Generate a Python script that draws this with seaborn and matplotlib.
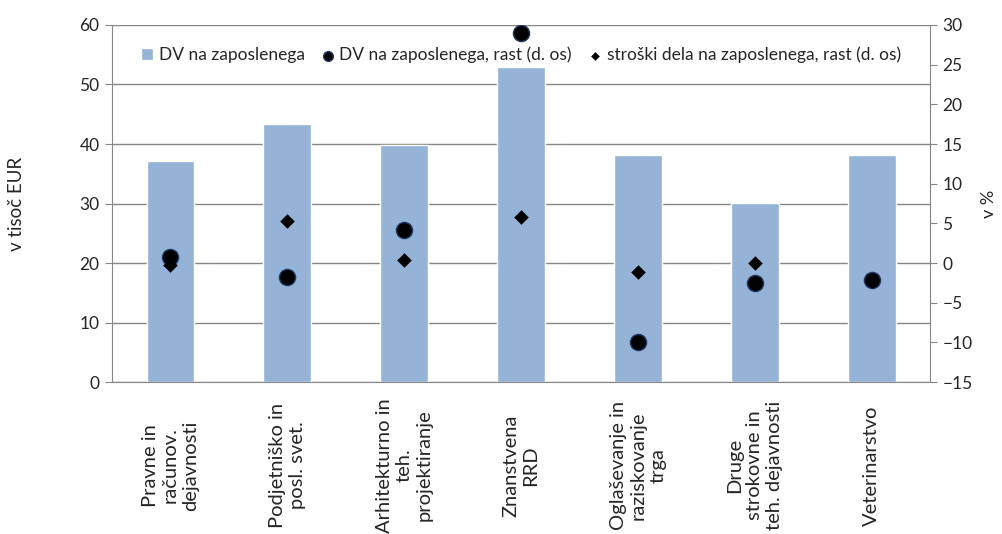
import numpy as np
import pandas as pd
import seaborn as sns
import matplotlib.pyplot as plt

# data
categories = [
    'Pravne in\nračunov.\ndejavnosti',
    'Podjetniško in\nposl. svet.',
    'Arhitekturno in\nteh.\nprojektiranje',
    'Znanstvena\nRRD',
    'Oglaševanje in\nraziskovanje\ntrga',
    'Druge\nstrokovne in\nteh. dejavnosti',
    'Veterinarstvo',
]
dv = [37.2, 43.4, 39.8, 52.9, 38.1, 30.1, 38.1]
dv_rast = [0.8, -1.8, 4.2, 29.0, -10.0, -2.5, -2.1]
stroski_rast = [-0.3, 5.3, 0.4, 5.8, -1.1, 0.0, -2.3]

left_ticks = np.arange(0, 61, 10)
right_ticks = np.arange(-15, 31, 5)

sns.set_style('white')
plt.rcParams['font.family'] = ['Lato', 'DejaVu Sans']

df = pd.DataFrame({
    'kat': categories,
    'dv': dv,
    'dv_rast': dv_rast,
    'stroski_rast': stroski_rast,
})

grey = '#868686'

fig = plt.figure(figsize=(10.03, 5.34), dpi=100)
ax = fig.add_axes([0.1117, 0.2846, 0.8155, 0.6686])

sns.barplot(
    data = df, x = 'kat', y = 'dv',
    color = '#95B3D7', saturation = 1, width = 0.41,
    label = 'DV na zaposlenega', ax = ax
)

ax2 = ax.twinx()
sns.scatterplot(
    data = df, x = 'kat', y = 'dv_rast',
    marker = 'o', s = 135, color = 'black', edgecolor = '#1F3864',
    linewidth = 1, label = 'DV na zaposlenega, rast (d. os)', ax = ax2, zorder = 3
)
sns.scatterplot(
    data = df, x = 'kat', y = 'stroski_rast',
    marker = 'D', s = 55, color = 'black', linewidth = 0,
    label = 'stroški dela na zaposlenega, rast (d. os)', ax = ax2, zorder = 4
)

# axes
ax.set_xlim(-0.5, 6.5)
ax.set_ylim(0, 60)
ax.set_yticks(left_ticks)
ax2.set_ylim(-15, 30)
ax2.set_yticks(right_ticks)

ax.set_axisbelow(True)
ax.yaxis.grid(True, color = grey, lw = 1)
ax.xaxis.grid(False)

# boundary ticks as major, category names as minor
ax.set_xticks(np.arange(-0.5, 7, 1), labels = [''] * 8)
ax.set_xticks(range(len(categories)), labels = categories, minor = True)
ax.tick_params(axis = 'x', which = 'major', length = 6, width = 1, color = grey, direction = 'out')
ax.tick_params(axis = 'x', which = 'minor', length = 0, pad = 60, labelsize = 14.5)
for lab in ax.get_xticklabels(minor = True):
    lab.set_rotation(90)
    lab.set_va('center')
    lab.set_ha('center')
    lab.set_multialignment('center')
    lab.set_linespacing(1.2)

ax.tick_params(axis = 'y', left = True, length = 5, color = grey, labelsize = 12.5, pad = 4)
ax2.tick_params(axis = 'y', right = True, length = 5, color = grey, labelsize = 12.5, pad = 4)

for side in ['top', 'right']:
    ax.spines[side].set_visible(False)
for side in ['left', 'bottom']:
    ax.spines[side].set_color(grey)
for side in ['top', 'left', 'bottom']:
    ax2.spines[side].set_visible(False)
ax2.spines['right'].set_color(grey)

ax.set_xlabel('')
ax2.set_xlabel('')
ax.set_ylabel('v tisoč EUR', fontsize = 13.5)
ax.yaxis.set_label_coords(-0.106, 0.5)
ax2.set_ylabel('v %', fontsize = 13)
ax2.yaxis.set_label_coords(1.062, 0.5)

# one legend for both axes
h1, l1 = ax.get_legend_handles_labels()
h2, l2 = ax2.get_legend_handles_labels()
if ax2.get_legend() is not None:
    ax2.get_legend().remove()
if ax.get_legend() is not None:
    ax.get_legend().remove()
ax2.legend(
    h1 + h2, l1 + l2,
    ncol = 3, loc = 'center', bbox_to_anchor = (0.5, 0.916),
    frameon = False, fontsize = 12.5, markerscale = 0.6,
    handlelength = 0.7, handleheight = 0.7, handletextpad = 0.3,
    columnspacing = 1.0
)

fig.savefig('out.png', dpi = 100)
